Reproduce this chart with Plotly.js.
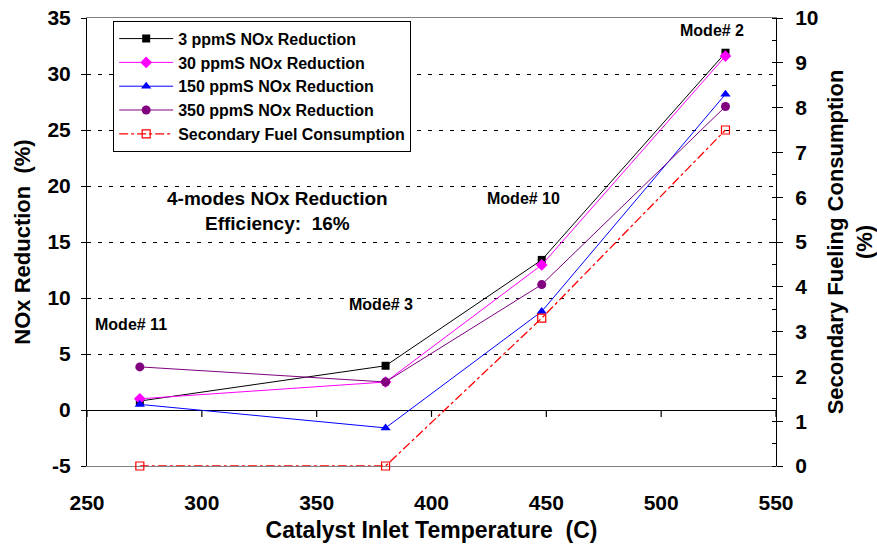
<!DOCTYPE html>
<html>
<head>
<meta charset="utf-8">
<script src="https://cdn.plot.ly/plotly-3.0.1.min.js"></script>
<style>html,body{margin:0;padding:0;background:#fff;}#chart{width:877px;height:548px;}</style>
</head>
<body>
<div id="chart"></div>
<script>
// Data
const temperature = [273, 380, 448, 528];
const nox3ppm   = [0.8, 3.95, 13.4, 31.9];
const nox30ppm  = [1.0, 2.5, 12.95, 31.6];
const nox150ppm = [0.5, -1.6, 8.8, 28.2];
const nox350ppm = [3.85, 2.5, 11.2, 27.1];
const fuelConsumption = [0, 0, 3.3, 7.5];
const seriesNames = ["3 ppmS NOx Reduction", "30 ppmS NOx Reduction", "150 ppmS NOx Reduction", "350 ppmS NOx Reduction", "Secondary Fuel Consumption"];
const modeLabels = ["Mode# 11", "Mode# 3", "Mode# 10", "Mode# 2"];
const modeLabelX = [269, 378, 440, 522];
const modeLabelY = [7.6, 9.4, 18.9, 33.9];
const xTicks = [250, 300, 350, 400, 450, 500, 550];
const leftTicks = [-5, 0, 5, 10, 15, 20, 25, 30, 35];
const leftTickText = leftTicks.map(String);

const F = "Liberation Sans, Arial, sans-serif";
const bold = (s, c) => ({family: F, size: s, color: c || "#000", weight: "bold"});

const traces = [
  {x: temperature, y: nox3ppm, name: seriesNames[0], mode: "lines+markers",
   line: {color: "#000000", width: 1}, marker: {symbol: "square", size: 8, color: "#000000"}},
  {x: temperature, y: nox30ppm, name: seriesNames[1], mode: "lines+markers",
   line: {color: "#FF00FF", width: 1}, marker: {symbol: "diamond", size: 9, color: "#FF00FF"}},
  {x: temperature, y: nox150ppm, name: seriesNames[2], mode: "lines+markers",
   line: {color: "#0000FF", width: 1}, marker: {symbol: "triangle-up", size: 9, color: "#0000FF"}},
  {x: temperature, y: nox350ppm, name: seriesNames[3], mode: "lines+markers",
   line: {color: "#800080", width: 1}, marker: {symbol: "circle", size: 9, color: "#800080"}},
  {x: temperature, y: fuelConsumption, name: seriesNames[4], mode: "lines+markers", yaxis: "y2",
   line: {color: "#FF0000", width: 1.3, dash: "dashdot"}, cliponaxis: false,
   marker: {symbol: "square-open", size: 8, color: "#FF0000", line: {width: 1.2}}}
];

const annotations = modeLabels.map((t, i) => ({
  x: modeLabelX[i], y: modeLabelY[i], xref: "x", yref: "y", text: t, showarrow: false,
  font: bold(16)
}));
annotations.push({x: 333, y: 17.8, xref: "x", yref: "y", showarrow: false,
  text: "4-modes NOx Reduction<br>Efficiency:  16%", font: bold(19), align: "center"});

// x-axis tick marks on the y = 0 line (axis crosses at zero)
const zeroTicks = xTicks.map(v => ({
  type: "line", xref: "x", yref: "y", layer: "above",
  x0: v, x1: v, y0: 0, y1: -0.62, line: {color: "#000000", width: 1.2}
}));

const layout = {
  width: 877, height: 548,
  margin: {l: 87, r: 101, t: 18, b: 82},
  paper_bgcolor: "#fff", plot_bgcolor: "#fff",
  showlegend: true,
  legend: {x: 0.038, y: 0.994, xanchor: "left", yanchor: "top", bgcolor: "#fff",
    bordercolor: "#000", borderwidth: 1, font: bold(16), itemwidth: 54,
    tracegroupgap: 0},
  xaxis: {range: [250, 550], tickmode: "array", tickvals: xTicks, ticks: "", showgrid: false, zeroline: false,
    showline: true, linecolor: "#808080", linewidth: 1, mirror: true, layer: "below traces",
    tickfont: bold(21), ticklabelstandoff: 18,
    title: {text: "Catalyst Inlet Temperature  (C)", font: bold(23), standoff: 8}},
  yaxis: {range: [-5, 35], tickmode: "array", tickvals: leftTicks, ticktext: leftTickText,
    ticks: "outside", ticklen: 5, tickcolor: "#000",
    showline: true, linecolor: "#000", linewidth: 1,
    showgrid: true, gridcolor: "#000", griddash: "4px,7px", gridwidth: 1,
    zeroline: true, zerolinecolor: "#000", zerolinewidth: 1,
    tickfont: bold(21), ticklabelstandoff: 6,
    title: {text: "NOx Reduction  (%)", font: bold(22), standoff: 10}},
  yaxis2: {range: [0, 10], dtick: 1, overlaying: "y", side: "right", ticks: "outside", ticklen: 6,
    tickcolor: "#000", showline: true, linecolor: "#000", linewidth: 1, showgrid: false, zeroline: false,
    minor: {dtick: 0.5, ticks: "inside", ticklen: 4, tickcolor: "#000"},
    tickfont: bold(21), ticklabelstandoff: 8,
    title: {text: "Secondary Fueling Consumption<br>(%)", font: bold(22), standoff: 10}},
  annotations: annotations,
  shapes: zeroTicks
};

Plotly.newPlot("chart", traces, layout, {staticPlot: true});
</script>
</body>
</html>
